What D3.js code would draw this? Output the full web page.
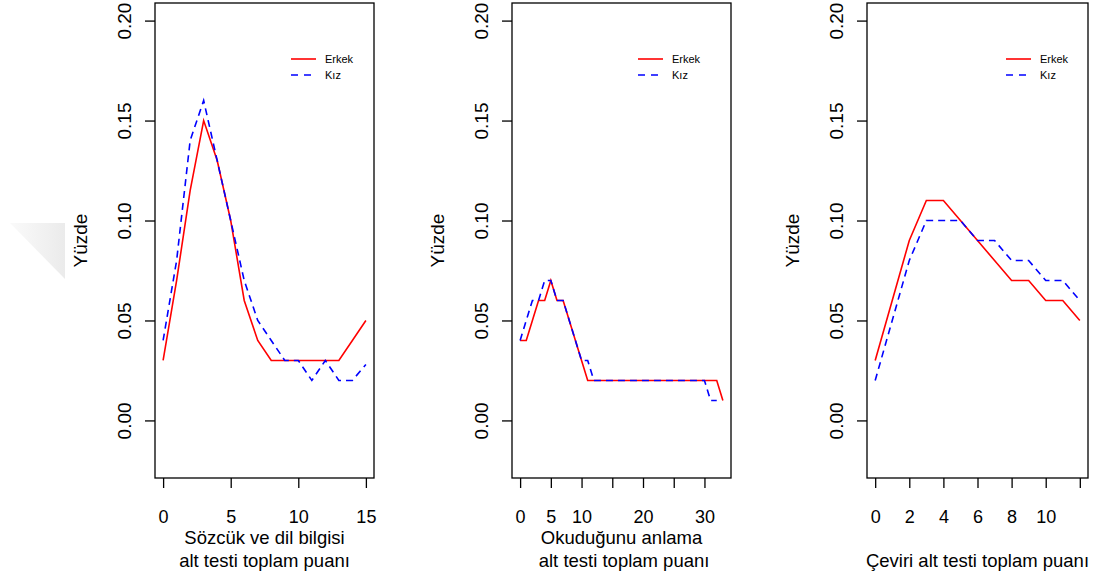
<!DOCTYPE html>
<html>
<head>
<meta charset="utf-8">
<script src="https://cdn.jsdelivr.net/npm/d3@7"></script>
<style>
  body { margin: 0; background: #fff; }
  svg text { font-family: "Liberation Sans", Arial, sans-serif; fill: #000; }
</style>
</head>
<body>
<script>
// ---- data ----
const p1Scores = [0,1,2,3,4,5,6,7,8,9,10,11,12,13,14,15];
const p1Erkek  = [0.03,0.07,0.115,0.15,0.13,0.10,0.06,0.04,0.03,0.03,0.03,0.03,0.03,0.03,0.04,0.05];
const p1Kiz    = [0.04,0.08,0.14,0.16,0.13,0.10,0.07,0.05,0.04,0.03,0.03,0.02,0.03,0.02,0.02,0.028];

const p2ScoresErkek = [0,1,2,3,4,5,6,7,8,9,10,11,12,13,14,15,16,17,18,19,20,21,22,23,24,25,26,27,28,29,30,31,32,33];
const p2Erkek  = [0.04,0.04,0.05,0.06,0.06,0.07,0.06,0.06,0.05,0.04,0.03,0.02,0.02,0.02,0.02,0.02,0.02,0.02,0.02,0.02,0.02,0.02,0.02,0.02,0.02,0.02,0.02,0.02,0.02,0.02,0.02,0.02,0.02,0.01];
const p2ScoresKiz = [0,1,2,3,4,5,6,7,8,9,10,11,12,13,14,15,16,17,18,19,20,21,22,23,24,25,26,27,28,29,30,31,32];
const p2Kiz    = [0.04,0.05,0.06,0.06,0.07,0.07,0.06,0.06,0.05,0.04,0.03,0.03,0.02,0.02,0.02,0.02,0.02,0.02,0.02,0.02,0.02,0.02,0.02,0.02,0.02,0.02,0.02,0.02,0.02,0.02,0.02,0.01,0.01];

const p3Scores = [0,1,2,3,4,5,6,7,8,9,10,11,12];
const p3Erkek  = [0.03,0.06,0.09,0.11,0.11,0.10,0.09,0.08,0.07,0.07,0.06,0.06,0.05];
const p3Kiz    = [0.02,0.05,0.08,0.10,0.10,0.10,0.09,0.09,0.08,0.08,0.07,0.07,0.06];

// axis ticks and labels
const yTicks = [0, 0.05, 0.10, 0.15, 0.20];
const p1XTicks = [0, 5, 10, 15];
const p1XLabels = ["0", "5", "10", "15"];
const p2XTicks = [0, 5, 10, 15, 20, 25, 30];
const p2XLabels = ["0", "5", "10", "", "20", "", "30"];
const p3XTicks = [0, 2, 4, 6, 8, 10, 12];
const p3XLabels = ["0", "2", "4", "6", "8", "10", ""];

const seriesNames = ["Erkek", "Kız"];
const yLabel = "Yüzde";
const p1Title = ["Sözcük ve dil bilgisi", "alt testi toplam puanı"];
const p2Title = ["Okuduğunu anlama", " alt testi toplam puanı"];
const p3Title = ["Çeviri alt testi toplam puanı"];

// ---- layout ----
const W = 1096, H = 583;
const boxTop = 3, boxBottom = 478;

const panels = [
  {left: 155, right: 374, xMax: 15, legendX: 291,
   erkek: {x: p1Scores, y: p1Erkek}, kiz: {x: p1Scores, y: p1Kiz},
   ticks: p1XTicks, labels: p1XLabels, title: p1Title},
  {left: 512, right: 731, xMax: 33, legendX: 638,
   erkek: {x: p2ScoresErkek, y: p2Erkek}, kiz: {x: p2ScoresKiz, y: p2Kiz},
   ticks: p2XTicks, labels: p2XLabels, title: p2Title},
  {left: 867, right: 1088, xMax: 12, legendX: 1006,
   erkek: {x: p3Scores, y: p3Erkek}, kiz: {x: p3Scores, y: p3Kiz},
   ticks: p3XTicks, labels: p3XLabels, title: p3Title}
];

const svg = d3.select('body').append('svg')
  .attr('width', W)
  .attr('height', H);

svg.append('rect').attr('width', W).attr('height', H).attr('fill', '#fff');

// faint watermark triangle at the far left
const grad = svg.append('defs').append('linearGradient')
  .attr('id', 'wm').attr('x1', 0).attr('x2', 1).attr('y1', 0).attr('y2', 0);
grad.append('stop').attr('offset', '0%').attr('stop-color', '#fafafa');
grad.append('stop').attr('offset', '100%').attr('stop-color', '#ebebeb');
svg.append('path')
  .attr('d', 'M10,223 L65,223 L65,279 Z')
  .attr('fill', 'url(#wm)');

// R style axis range: 4% padding on both ends
function padded(lo, hi) {
  const d = (hi - lo) * 0.04;
  return [lo - d, hi + d];
}

const yScale = d3.scaleLinear()
  .domain(padded(-0.02, 0.20))
  .range([boxBottom, boxTop]);

const fs = 18.5;

panels.forEach(p => {
  const xScale = d3.scaleLinear()
    .domain(padded(0, p.xMax))
    .range([p.left, p.right]);

  const g = svg.append('g');

  // y axis
  const yAxis = d3.axisLeft(yScale)
    .tickValues(yTicks)
    .tickSize(10)
    .tickFormat(d3.format('.2f'));
  const yg = g.append('g')
    .attr('transform', `translate(${p.left},0)`)
    .call(yAxis);
  yg.select('.domain').remove();
  yg.selectAll('.tick line').attr('stroke', '#000').attr('stroke-width', 1.3);
  yg.selectAll('.tick text')
    .attr('x', 0)
    .attr('y', -31)
    .attr('dy', '0.35em')
    .attr('transform', 'rotate(-90)')
    .attr('text-anchor', 'middle')
    .style('font-size', '19px');

  // x axis
  const xAxis = d3.axisBottom(xScale)
    .tickValues(p.ticks)
    .tickSize(10)
    .tickFormat((d, i) => p.labels[i]);
  const xg = g.append('g')
    .attr('transform', `translate(0,${boxBottom})`)
    .call(xAxis);
  xg.select('.domain').remove();
  xg.selectAll('.tick line').attr('stroke', '#000').attr('stroke-width', 1.3);
  xg.selectAll('.tick text')
    .attr('y', 45)
    .attr('dy', 0)
    .style('font-size', '18px');

  // box
  g.append('rect')
    .attr('x', p.left).attr('y', boxTop)
    .attr('width', p.right - p.left).attr('height', boxBottom - boxTop)
    .attr('fill', 'none').attr('stroke', '#000').attr('stroke-width', 1.3);

  // y label
  g.append('text')
    .attr('transform', `translate(${p.left - 68},${(boxTop + boxBottom) / 2}) rotate(-90)`)
    .attr('text-anchor', 'middle')
    .style('font-size', '19px')
    .text(yLabel);

  // x title lines, last line sits at the bottom
  const n = p.title.length;
  p.title.forEach((t, i) => {
    g.append('text')
      .attr('x', (p.left + p.right) / 2)
      .attr('y', 567 - (n - 1 - i) * 23)
      .attr('text-anchor', 'middle')
      .style('font-size', fs + 'px')
      .style('white-space', 'pre')
      .text(t);
  });

  const line = d3.line()
    .x(d => xScale(d[0]))
    .y(d => yScale(d[1]));

  g.append('path')
    .datum(p.erkek.x.map((x, i) => [x, p.erkek.y[i]]))
    .attr('d', line)
    .attr('fill', 'none')
    .attr('stroke', '#ff0000')
    .attr('stroke-width', 1.6);

  g.append('path')
    .datum(p.kiz.x.map((x, i) => [x, p.kiz.y[i]]))
    .attr('d', line)
    .attr('fill', 'none')
    .attr('stroke', '#0000ff')
    .attr('stroke-width', 1.6)
    .attr('stroke-dasharray', '7,5');

  // legend (no box)
  const leg = g.append('g');
  [['#ff0000', null], ['#0000ff', '7,6']].forEach((s, i) => {
    const ly = 59 + i * 16;
    leg.append('line')
      .attr('x1', p.legendX).attr('x2', p.legendX + 25)
      .attr('y1', ly).attr('y2', ly)
      .attr('stroke', s[0]).attr('stroke-width', 1.6)
      .attr('stroke-dasharray', s[1]);
    leg.append('text')
      .attr('x', p.legendX + 34)
      .attr('y', ly + 4)
      .style('font-size', '11px')
      .text(seriesNames[i]);
  });
});
</script>
</body>
</html>
